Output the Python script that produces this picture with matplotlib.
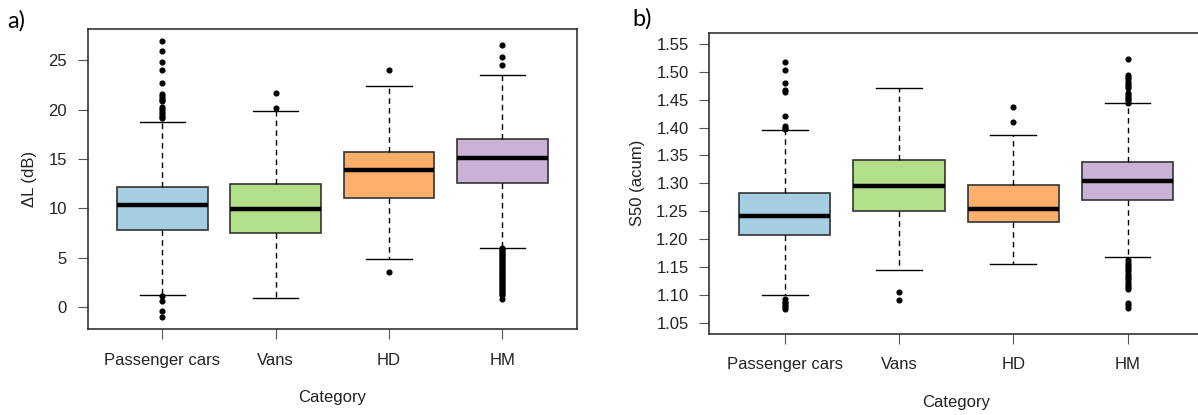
import matplotlib
matplotlib.use("Agg")
import matplotlib.pyplot as plt

plt.rcParams['font.family'] = ['Liberation Sans', 'DejaVu Sans']

categories = ["Passenger cars", "Vans", "HD", "HM"]
colors = ["#A6CEE3", "#B2DF8A", "#FDAE6B", "#CAB2D6"]

# panel a) - Delta L (dB)
dl_med = [10.3, 9.98, 13.87, 15.09]
dl_q1 = [7.8, 7.48, 11.03, 12.62]
dl_q3 = [12.21, 12.52, 15.76, 17.05]
dl_whislo = [1.25, 0.91, 4.87, 6.02]
dl_whishi = [18.78, 19.86, 22.4, 23.51]
dl_fliers = [
    [27.0, 26.0, 24.8, 24.0, 22.75, 21.6, 21.4, 21.2, 21.0, 20.85, 20.3, 20.1,
     19.9, 19.7, 19.5, 19.3, 19.2, 1.08, 0.57, -0.38, -1.05],
    [21.68, 20.2],
    [23.99, 3.59],
    [26.52, 25.37, 24.53, 5.95, 5.85, 5.7, 5.55, 5.4, 5.25, 5.1, 4.95, 4.8,
     4.65, 4.5, 4.35, 4.2, 4.05, 3.9, 3.75, 3.6, 3.45, 3.3, 3.15, 3.0, 2.85,
     2.7, 2.55, 2.4, 2.25, 2.1, 1.95, 1.8, 1.65, 1.5, 1.35, 1.25, 0.81],
]

# panel b) - S50 (acum)
s50_med = [1.2418, 1.2955, 1.2549, 1.3039]
s50_q1 = [1.2077, 1.2513, 1.2298, 1.2704]
s50_q3 = [1.2836, 1.3427, 1.2967, 1.3391]
s50_whislo = [1.099, 1.145, 1.1557, 1.1671]
s50_whishi = [1.3953, 1.4717, 1.3869, 1.4437]
s50_fliers = [
    [1.5177, 1.5034, 1.4795, 1.4681, 1.4646, 1.421, 1.4024, 1.3995, 1.397,
     1.092, 1.088, 1.085, 1.081, 1.078, 1.075],
    [1.1056, 1.09],
    [1.4365, 1.4102],
    [1.5237, 1.4944, 1.4905, 1.4867, 1.4823, 1.478, 1.474, 1.4705, 1.4626,
     1.459, 1.455, 1.4515, 1.4495, 1.4445, 1.162, 1.158, 1.154, 1.150, 1.146,
     1.142, 1.138, 1.134, 1.130, 1.126, 1.122, 1.118, 1.114, 1.110, 1.085,
     1.081, 1.077],
]


def make_stats(med, q1, q3, lo, hi, fliers):
    return [dict(med=m, q1=a, q3=b, whislo=l, whishi=h, fliers=f)
            for m, a, b, l, h, f in zip(med, q1, q3, lo, hi, fliers)]


def draw_panel(ax, stats, yticks, fmt, ylim, ylabel):
    pos = list(range(1, len(categories) + 1))
    bp = ax.bxp(stats, positions=pos, widths=0.8, capwidths=0.4, patch_artist=True,
                boxprops=dict(edgecolor="#333333", linewidth=1.2),
                medianprops=dict(color="black", linewidth=3.2),
                whiskerprops=dict(color="black", linewidth=1.0, linestyle=(0, (4, 3))),
                capprops=dict(color="black", linewidth=1.0),
                flierprops=dict(marker="o", markersize=3.4, markerfacecolor="black",
                                markeredgecolor="black", linestyle="none"))
    for patch, c in zip(bp["boxes"], colors):
        patch.set_facecolor(c)
    ax.set_xlim(0.34, 4.66)
    ax.set_ylim(*ylim)
    ax.set_xticks(pos)
    ax.set_xticklabels(categories, fontsize=12, color="#222222")
    ax.set_yticks(yticks)
    ax.set_yticklabels([fmt % v for v in yticks], fontsize=12, color="#222222")
    ax.tick_params(axis="both", length=7, width=0.8, color="#555555")
    ax.tick_params(axis="x", pad=10)
    ax.tick_params(axis="y", pad=8)
    for s in ax.spines.values():
        s.set_color("#222222")
        s.set_linewidth(1.1)
    ax.set_xlabel("Category", fontsize=12, labelpad=16, color="#222222")
    ax.set_ylabel(ylabel, fontsize=12, labelpad=8, color="#222222")


fig = plt.figure(figsize=(11.98, 4.15), dpi=100)
ax1 = fig.add_axes([0.0732, 0.2072, 0.4084, 0.7222])
ax2 = fig.add_axes([0.5921, 0.1959, 0.4121, 0.7253])

draw_panel(ax1, make_stats(dl_med, dl_q1, dl_q3, dl_whislo, dl_whishi, dl_fliers),
           [0, 5, 10, 15, 20, 25], "%d", (-2.22, 28.15), "ΔL (dB)")
draw_panel(ax2, make_stats(s50_med, s50_q1, s50_q3, s50_whislo, s50_whishi, s50_fliers),
           [1.05, 1.10, 1.15, 1.20, 1.25, 1.30, 1.35, 1.40, 1.45, 1.50, 1.55], "%.2f",
           (1.0303, 1.5703), "S50 (acum)")

fig.text(0.006, 0.975, "a)", fontsize=17, family=["Lato", "DejaVu Sans"], va="top")
fig.text(0.528, 0.98, "b)", fontsize=17, family=["Lato", "DejaVu Sans"], va="top")

fig.savefig("out.png", dpi=100)
